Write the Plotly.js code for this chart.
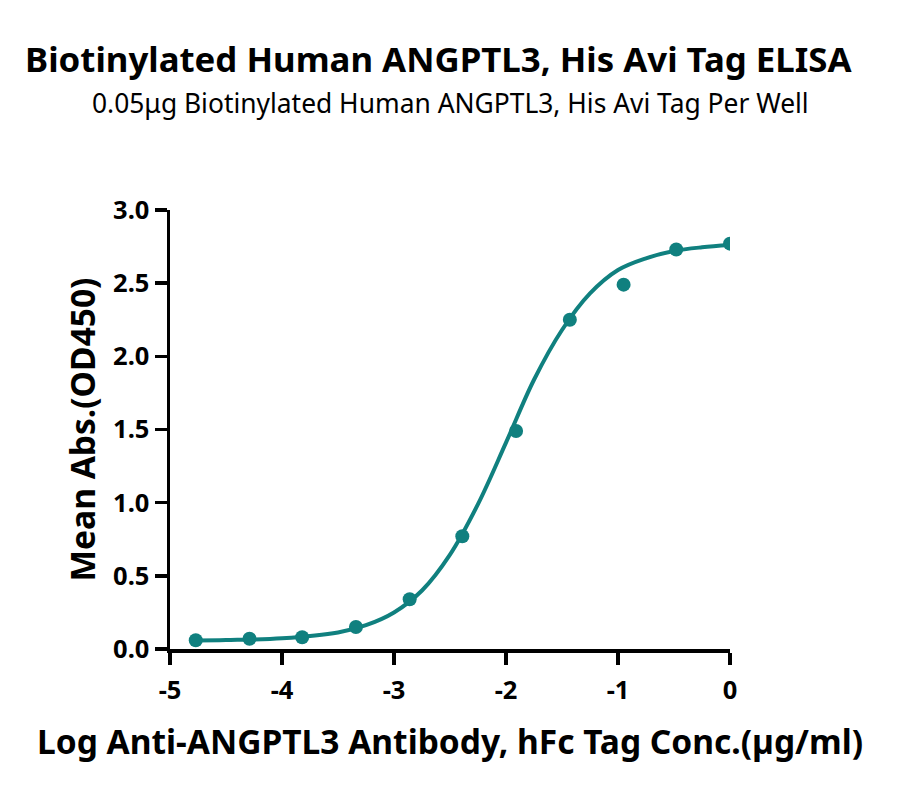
<!DOCTYPE html>
<html>
<head>
<meta charset="utf-8">
<script src="https://cdn.plot.ly/plotly-3.0.1.min.js"></script>
<style>
  html, body { margin: 0; padding: 0; background: #fff; }
  #chart { width: 900px; height: 795px; }
</style>
</head>
<body>
<div id="chart"></div>
<script>
// ── Data ──────────────────────────────────────
const logConc = [-4.77, -4.29, -3.82, -3.34, -2.86, -2.39, -1.91, -1.43, -0.95, -0.48, 0];
const meanAbs = [0.06, 0.07, 0.08, 0.15, 0.34, 0.77, 1.49, 2.25, 2.49, 2.73, 2.77];

// fitted curve, sampled by eye
const fitX = [-4.77, -4.5, -4.0, -3.5, -3.25, -3.0, -2.75, -2.5, -2.25, -2.0, -1.75, -1.5, -1.25, -1.0, -0.75, -0.5, -0.25, 0];
const fitY = [0.058, 0.061, 0.073, 0.113, 0.163, 0.25, 0.40, 0.645, 0.99, 1.41, 1.84, 2.18, 2.43, 2.59, 2.67, 2.72, 2.745, 2.76];

const xTicks = [-5, -4, -3, -2, -1, 0];
const yTicks = [0, 0.5, 1.0, 1.5, 2.0, 2.5, 3.0];

const TEAL = "#10807F";
const FONT = "Noto Sans, sans-serif";

// ── Traces ────────────────────────────────────
const fit = {
  type: "scatter",
  mode: "lines",
  x: fitX,
  y: fitY,
  line: { color: TEAL, width: 4, shape: "spline", smoothing: 1 },
  hoverinfo: "skip",
};

const points = {
  type: "scatter",
  mode: "markers",
  x: logConc,
  y: meanAbs,
  marker: { color: TEAL, size: 14 },
};

// ── Layout ────────────────────────────────────
const axisBase = {
  showgrid: false,
  zeroline: false,
  showline: true,
  linecolor: "#000",
  linewidth: 3.5,
  ticks: "outside",
  ticklen: 12,
  tickwidth: 3.5,
  tickcolor: "#000",
  tickfont: { family: FONT, size: 25.5, color: "#000", weight: "bold" },
};

const layout = {
  width: 900,
  height: 795,
  paper_bgcolor: "#fff",
  plot_bgcolor: "#fff",
  showlegend: false,
  margin: { l: 170, r: 170, t: 210, b: 146 },
  xaxis: {
    ...axisBase,
    range: [-5, 0],
    tickvals: xTicks,
    ticktext: xTicks.map(String),
    ticklabelstandoff: 4,
    title: {
      text: "<b>Log Anti-ANGPTL3 Antibody, hFc Tag Conc.(µg/ml)</b>",
      font: { family: FONT, size: 33.5, color: "#000" },
      standoff: 26,
    },
  },
  yaxis: {
    ...axisBase,
    range: [0, 3],
    tickvals: yTicks,
    ticktext: yTicks.map((v) => v.toFixed(1)),
    title: {
      text: "<b>Mean Abs.(OD450)</b>",
      font: { family: FONT, size: 33.5, color: "#000" },
      standoff: 8,
    },
  },
  annotations: [
    {
      text: "<b>Biotinylated Human ANGPTL3, His Avi Tag ELISA</b>",
      xref: "paper", yref: "paper",
      x: 0.5, y: 1, yshift: 152, xshift: -12,
      xanchor: "center", yanchor: "middle",
      showarrow: false,
      font: { family: FONT, size: 34.8, color: "#000" },
    },
    {
      text: "0.05μg Biotinylated Human ANGPTL3, His Avi Tag Per Well",
      xref: "paper", yref: "paper",
      x: 0.5, y: 1, yshift: 107,
      xanchor: "center", yanchor: "middle",
      showarrow: false,
      font: { family: FONT, size: 26.4, color: "#000" },
    },
  ],
};

Plotly.newPlot("chart", [fit, points], layout, { displayModeBar: false, staticPlot: true });
</script>
</body>
</html>
